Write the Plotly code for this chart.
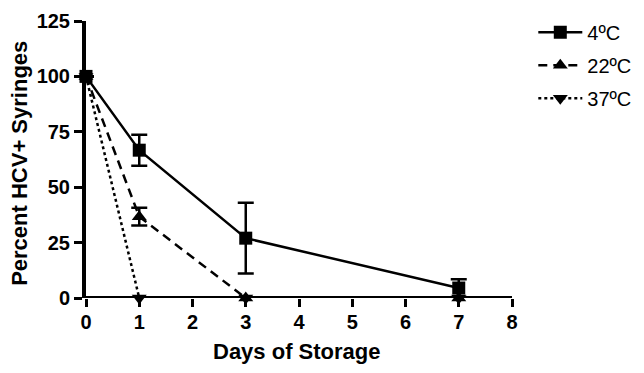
import plotly.graph_objects as go

days_4 = [0, 1, 3, 7]
vals_4 = [100, 66.7, 27, 4.5]
err_4 = [0, 7, 16, 4]

days_22 = [0, 1, 3, 7]
vals_22 = [100, 36.7, 0, 0]
err_22 = [0, 4, 0, 0]

days_37 = [0, 1, 3, 7]
vals_37 = [100, 0, 0, 0]
err_37 = [0, 0, 0, 0]

names = ["4ºC", "22ºC", "37ºC"]
x_ticks = [0, 1, 2, 3, 4, 5, 6, 7, 8]
y_ticks = [0, 25, 50, 75, 100, 125]

fig = go.Figure()
specs = [
    (days_4, vals_4, err_4, names[0], "solid", "square"),
    (days_22, vals_22, err_22, names[1], "9px,6px", "triangle-up"),
    (days_37, vals_37, err_37, names[2], "3px,3px", "triangle-down"),
]
for i, (xs, ys, es, nm, dash, sym) in enumerate(specs):
    fig.add_trace(go.Scatter(
        x=xs, y=ys, name=nm, mode="lines+markers", legendgroup=f"g{i}",
        line=dict(color="black", width=2.5, dash=dash),
        marker=dict(symbol=sym, size=13, color="black"),
        error_y=dict(type="data", array=es, visible=True, color="black", thickness=2.5, width=8),
        cliponaxis=False,
    ))

font_fam = "Liberation Sans, Arial, sans-serif"
# page has an 8px body margin; plot area should land at page x 86..512, y 13..298
fig.update_layout(
    width=644, height=373,
    margin=dict(l=78, r=140, t=5, b=83),
    plot_bgcolor="white", paper_bgcolor="white",
    font=dict(family=font_fam, color="black"),
    legend=dict(x=1.05, y=1.03, xanchor="left", yanchor="top",
                font=dict(size=20, color="black"), tracegroupgap=4,
                itemwidth=44, bgcolor="rgba(0,0,0,0)"),
    showlegend=True,
    shapes=[
        # x axis baseline drawn above traces (like the original), so series resting on 0 sit under it
        dict(type="line", xref="paper", x0=-0.005, x1=1.0, yref="y", y0=0, y1=0,
             line=dict(color="black", width=4), layer="above"),
    ],
    annotations=[
        dict(text="<b>Percent HCV+ Syringes</b>", xref="paper", yref="paper",
             x=(20 - 86) / 426, y=(298 - 160) / 285, textangle=-90, showarrow=False,
             font=dict(size=22, family=font_fam, color="black"), xanchor="center", yanchor="middle"),
        dict(text="<b>Days of Storage</b>", xref="paper", yref="paper",
             x=(297 - 86) / 426, y=-(353 - 298) / 285, showarrow=False,
             font=dict(size=22, family=font_fam, color="black"), xanchor="center", yanchor="middle"),
    ],
)
fig.update_xaxes(
    range=[0, 8], tickvals=x_ticks, ticktext=[str(t) for t in x_ticks],
    showgrid=False, zeroline=False, showline=False,
    ticks="outside", ticklen=8, tickwidth=3, tickcolor="black", automargin=False,
    ticklabelstandoff=-2,
    tickfont=dict(size=20, family=font_fam, weight="bold"),
)
fig.update_yaxes(
    range=[0, 125], tickvals=y_ticks, ticktext=[str(t) for t in y_ticks],
    showgrid=False, zeroline=False, showline=True, linecolor="black", linewidth=4,
    ticks="outside", ticklen=8, tickwidth=3, tickcolor="black", automargin=False,
    tickfont=dict(size=20, family=font_fam, weight="bold"),
)
fig.write_html("out.html")
